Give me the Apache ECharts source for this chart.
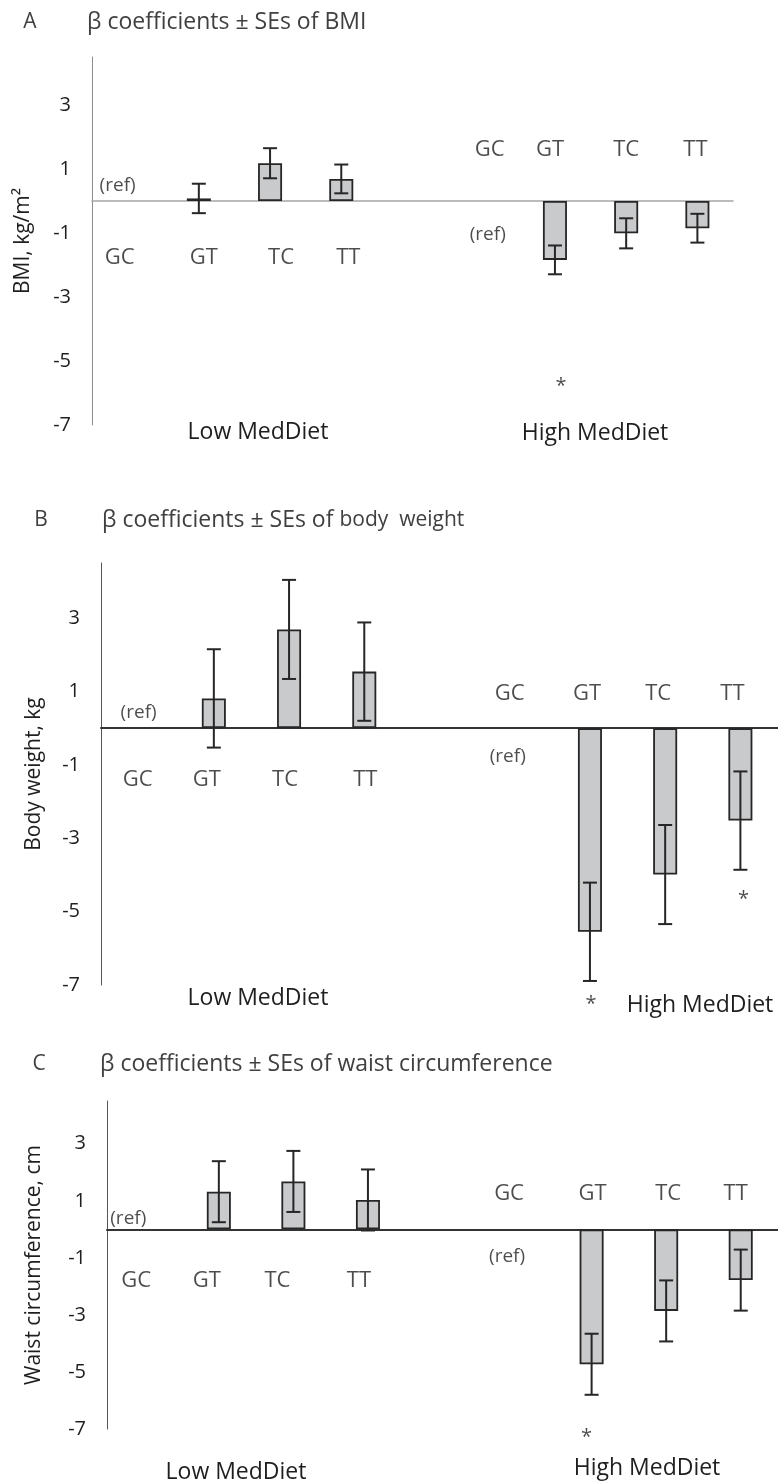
<!DOCTYPE html>
<html>
<head>
<meta charset="utf-8">
<script src="https://cdn.jsdelivr.net/npm/echarts@6/dist/echarts.min.js"></script>
<style>
  html, body { margin: 0; padding: 0; background: #fff; }
  #chart { width: 778px; height: 1482px; }
</style>
</head>
<body>
<div id="chart"></div>
<script>
// genotypes, GC is the reference in each diet group
var genotypes = ['GC', 'GT', 'TC', 'TT'];
var groups = ['Low MedDiet', 'High MedDiet'];

// A - BMI
var bmiLow = [null, 0.08, 1.18, 0.69];
var bmiLowSE = [null, 0.46, 0.47, 0.45];
var bmiHigh = [null, -1.84, -1.01, -0.85];
var bmiHighSE = [null, 0.45, 0.47, 0.45];
var bmiSig = [false, true, false, false];

// B - body weight
var weightLow = [null, 0.81, 2.69, 1.54];
var weightLowSE = [null, 1.34, 1.35, 1.34];
var weightHigh = [null, -5.55, -3.99, -2.52];
var weightHighSE = [null, 1.34, 1.35, 1.34];
var weightSig = [false, true, false, true];

// C - waist circumference
var waistLow = [null, 1.32, 1.68, 1.03];
var waistLowSE = [null, 1.07, 1.07, 1.07];
var waistHigh = [null, -4.73, -2.86, -1.78];
var waistHighSE = [null, 1.07, 1.07, 1.07];
var waistSig = [false, true, false, false];

var yTicks = [-7, -5, -3, -1, 1, 3];

var FONT = '"Open Sans"';
var TXT = '#1f1f1f';
var TITLE = '#404040';

// layout of each panel (pixels / label heights), data comes from the arrays above
var panels = [
    {
        letter: 'A', title: 'β coefficients ± SEs of BMI', yName: 'BMI, kg/m²',
        low: bmiLow, lowSE: bmiLowSE, high: bmiHigh, highSE: bmiHighSE, sig: bmiSig,
        grid: {left: 92, top: 57, width: 641, height: 368},
        zero: {color: '#a6a6a6', width: 1.5}, yLine: '#8c8c8c',
        letterXY: [30, 22], titleXY: [87, 22], nameGap: 58,
        lowY: -1.78, highY: 1.59, refY: [0.47, -1.06],
        dx: [-8, 5, 11, 7, 0, 6, -5, 0, -2], refDx: [-10, 4],
        stars: [[6, -5.69, 6]],
        groupXY: [[258, 432], [595, 433]]
    },
    {
        letter: 'B', title: 'β coefficients ± SEs of ', title2: 'body  weight', yName: 'Body weight, kg',
        low: weightLow, lowSE: weightLowSE, high: weightHigh, highSE: weightHighSE, sig: weightSig,
        grid: {left: 101, top: 563, width: 679, height: 422},
        zero: {color: '#333', width: 2}, yLine: '#555',
        letterXY: [41, 520], titleXY: [102, 520], nameGap: 56,
        lowY: -1.41, highY: 0.95, refY: [0.43, -0.77],
        dx: [-1, -7, -4, 1, 0, -5, -3, -7, -8], refDx: [0, -7],
        stars: [[6, -7.45, 1], [8, -4.59, 3]],
        groupXY: [[258, 998], [700, 1005]]
    },
    {
        letter: 'C', title: 'β coefficients ± SEs of waist circumference', yName: 'Waist circumference, cm',
        low: waistLow, lowSE: waistLowSE, high: waistHigh, highSE: waistHighSE, sig: waistSig,
        grid: {left: 107, top: 1101, width: 675, height: 328},
        zero: {color: '#333', width: 2}, yLine: '#555',
        letterXY: [39, 1064], titleXY: [100, 1064], nameGap: 62,
        lowY: -1.79, highY: 1.25, refY: [0.38, -0.95],
        dx: [-8, -12, -16, -9, 0, -8, 1, 2, -5], refDx: [-16, -10],
        stars: [[6, -7.19, -5]],
        groupXY: [[236, 1472], [647, 1468]]
    }
];

// 9 slots: low GC..TT, empty gap, high GC..TT
var slots = [];
genotypes.forEach(function (g) { slots.push('low ' + g); });
slots.push('');
genotypes.forEach(function (g) { slots.push('high ' + g); });

function joinSlots(low, high) {
    return low.concat([null]).concat(high);
}

function renderErr(params, api) {
    var x = api.value(0), v = api.value(1), se = api.value(2);
    var top = api.coord([x, v + se]);
    var bot = api.coord([x, v - se]);
    var hw = 7;
    var st = {stroke: '#262626', lineWidth: 2};
    return {
        type: 'group',
        children: [
            {type: 'line', shape: {x1: top[0], y1: top[1], x2: bot[0], y2: bot[1]}, style: st},
            {type: 'line', shape: {x1: top[0] - hw, y1: top[1], x2: top[0] + hw, y2: top[1]}, style: st},
            {type: 'line', shape: {x1: bot[0] - hw, y1: bot[1], x2: bot[0] + hw, y2: bot[1]}, style: st}
        ]
    };
}

var grids = [], xAxes = [], yAxes = [], series = [], graphics = [];

panels.forEach(function (p, i) {
    grids.push(p.grid);
    xAxes.push({
        type: 'category', gridIndex: i, data: slots,
        axisLine: {onZero: true, lineStyle: {color: p.zero.color, width: p.zero.width}},
        axisTick: {show: false}, axisLabel: {show: false}
    });
    yAxes.push({
        type: 'value', gridIndex: i, min: -7, max: 4.5, interval: 2,
        name: p.yName, nameLocation: 'middle', nameGap: p.nameGap, nameRotate: 90,
        nameTextStyle: {fontFamily: FONT, fontSize: 21, color: TXT},
        axisLine: {show: true, lineStyle: {color: p.yLine, width: 1}},
        axisTick: {show: false}, splitLine: {show: false},
        axisLabel: {
            fontFamily: FONT, fontSize: 20, color: TXT, margin: 21, padding: [6, 0, 0, 0],
            showMaxLabel: false,
            formatter: function (v) { return yTicks.indexOf(v) >= 0 ? String(v) : ''; }
        }
    });

    var vals = joinSlots(p.low, p.high);
    var ses = joinSlots(p.lowSE, p.highSE);

    series.push({
        type: 'bar', xAxisIndex: i, yAxisIndex: i, silent: true,
        barWidth: 24,
        data: vals.map(function (v) { return v == null ? '-' : v; }),
        itemStyle: {color: '#c9cacc', borderColor: '#262626', borderWidth: 1.8}
    });

    var errData = [];
    vals.forEach(function (v, k) {
        if (v != null && ses[k] != null) errData.push([k, v, ses[k]]);
    });
    series.push({
        type: 'custom', xAxisIndex: i, yAxisIndex: i, silent: true, z: 5,
        renderItem: renderErr, encode: {x: 0, y: 1}, data: errData
    });

    // genotype labels above / below the reference line
    var labData = [];
    slots.forEach(function (s, k) {
        if (!s) return;
        var g = s.split(' ')[1];
        labData.push({
            value: [k, k < 4 ? p.lowY : p.highY],
            label: {formatter: g, offset: [p.dx[k], 0]}
        });
    });
    // (ref) next to each GC
    [0, 5].forEach(function (k, j) {
        labData.push({
            value: [k, p.refY[j]],
            label: {formatter: '(ref)', fontSize: 19, offset: [p.refDx[j], 0]}
        });
    });
    // significance stars (high MedDiet vs its GC)
    p.stars.forEach(function (s) {
        if (!p.sig[s[0] - 5]) return;
        labData.push({
            value: [s[0], s[1]],
            label: {formatter: '*', fontSize: 20, offset: [s[2], 3]}
        });
    });
    series.push({
        type: 'scatter', xAxisIndex: i, yAxisIndex: i, silent: true, clip: false,
        symbolSize: 1, itemStyle: {color: 'rgba(0,0,0,0)'},
        label: {show: true, position: 'inside', fontFamily: FONT, fontSize: 22, color: TXT},
        data: labData, z: 6
    });

    // panel letter and title
    graphics.push({
        type: 'text', x: p.letterXY[0], y: p.letterXY[1],
        style: {text: p.letter, font: '21px ' + FONT, fill: TITLE, align: 'center', verticalAlign: 'middle'}
    });
    graphics.push({
        type: 'text', x: p.titleXY[0], y: p.titleXY[1],
        style: p.title2 ? {
            text: '{a|' + p.title + '}{b|' + p.title2 + '}',
            rich: {
                a: {fontFamily: FONT, fontSize: 23, fill: TITLE},
                b: {fontFamily: FONT, fontSize: 21, fill: TITLE}
            },
            verticalAlign: 'middle'
        } : {text: p.title, font: '23px ' + FONT, fill: TITLE, verticalAlign: 'middle'}
    });
    groups.forEach(function (gname, j) {
        graphics.push({
            type: 'text', x: p.groupXY[j][0], y: p.groupXY[j][1],
            style: {text: gname, font: '23px ' + FONT, fill: TXT, align: 'center', verticalAlign: 'middle'}
        });
    });
});

var chart = echarts.init(document.getElementById('chart'));
chart.setOption({
    animation: false,
    grid: grids,
    xAxis: xAxes,
    yAxis: yAxes,
    series: series,
    graphic: graphics
});
</script>
</body>
</html>
